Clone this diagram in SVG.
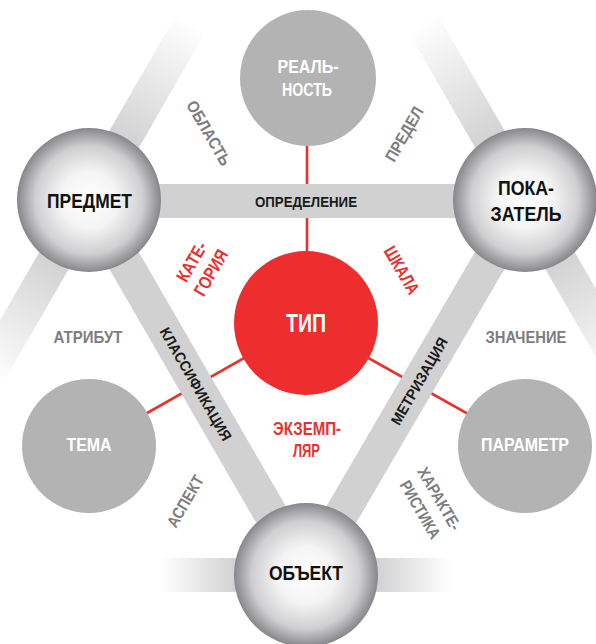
<svg xmlns="http://www.w3.org/2000/svg" width="596" height="644" viewBox="0 0 596 644">
<defs>
<style>
text{font-family:"Liberation Sans",Arial,sans-serif;font-weight:bold;text-anchor:middle}
.gl{fill:#7d7d80;font-size:16.5px}
.bl{fill:#1a1a1a;font-size:15px}
.rl{fill:#e8312f;font-size:18px}
.nb{fill:#111;font-size:21px}
.nw{fill:#fff;font-size:18.5px}
.band{stroke:#d1d1d1;stroke-width:34;fill:none}
.red{stroke:#e8312f;stroke-width:2.6;fill:none}
.flat{fill:#b3b3b3}
.sph{fill:url(#sphere)}
</style>
<radialGradient id="sphere" cx="0.5" cy="0.5" r="0.5">
<stop offset="0" stop-color="#ffffff"/>
<stop offset="0.4" stop-color="#f4f4f4"/>
<stop offset="0.75" stop-color="#cfcfd1"/>
<stop offset="1" stop-color="#87878b"/>
</radialGradient>
<linearGradient id="fadeL" x1="0" y1="0" x2="1" y2="0">
<stop offset="0.35" stop-color="#d3d3d3"/>
<stop offset="1" stop-color="#d3d3d3" stop-opacity="0"/>
</linearGradient>
<linearGradient id="fadeS" x1="0" y1="0" x2="1" y2="0">
<stop offset="0.5" stop-color="#d3d3d3"/>
<stop offset="1" stop-color="#d3d3d3" stop-opacity="0"/>
</linearGradient>
</defs>

<g id="fading-bands">
<rect x="0" y="-17" width="205" height="34" fill="url(#fadeL)" transform="translate(89,200) rotate(-60)"/>
<rect x="0" y="-17" width="205" height="34" fill="url(#fadeL)" transform="translate(89,200) rotate(120)"/>
<rect x="0" y="-17" width="205" height="34" fill="url(#fadeL)" transform="translate(525,200) rotate(-120)"/>
<rect x="0" y="-17" width="205" height="34" fill="url(#fadeL)" transform="translate(525,200) rotate(60)"/>
<rect x="0" y="-17" width="145" height="34" fill="url(#fadeS)" transform="translate(306,575) rotate(180)"/>
<rect x="0" y="-17" width="145" height="34" fill="url(#fadeS)" transform="translate(306,575)"/>
</g>

<g id="connectors">
<line class="red" x1="307" y1="140" x2="307" y2="260"/>
<line class="red" x1="306" y1="323" x2="89" y2="446"/>
<line class="red" x1="306" y1="323" x2="525" y2="446"/>
<line class="band" x1="89" y1="201" x2="525" y2="201"/>
<line class="band" x1="89" y1="200" x2="306" y2="575"/>
<line class="band" x1="525" y1="200" x2="306" y2="575"/>
</g>

<g id="labels">
<text class="bl" x="306" y="207" textLength="102" lengthAdjust="spacingAndGlyphs">ОПРЕДЕЛЕНИЕ</text>
<text class="bl" transform="translate(196,384) rotate(60)" x="0" y="5.5" textLength="128" lengthAdjust="spacingAndGlyphs">КЛАССИФИКАЦИЯ</text>
<text class="bl" transform="translate(419,381) rotate(-60)" x="0" y="5.5" textLength="98" lengthAdjust="spacingAndGlyphs">МЕТРИЗАЦИЯ</text>
<text class="gl" transform="translate(209,133) rotate(60)" x="0" y="6" textLength="72" lengthAdjust="spacingAndGlyphs">ОБЛАСТЬ</text>
<text class="gl" transform="translate(404,134) rotate(-60)" x="0" y="6" textLength="60" lengthAdjust="spacingAndGlyphs">ПРЕДЕЛ</text>
<text class="gl" x="88" y="343" textLength="69" lengthAdjust="spacingAndGlyphs">АТРИБУТ</text>
<text class="gl" x="526" y="343" textLength="81" lengthAdjust="spacingAndGlyphs">ЗНАЧЕНИЕ</text>
<text class="gl" transform="translate(185,501) rotate(-60)" x="0" y="6" textLength="57" lengthAdjust="spacingAndGlyphs">АСПЕКТ</text>
<text class="gl" transform="translate(430,504) rotate(60)"><tspan x="0" y="-5" textLength="70" lengthAdjust="spacingAndGlyphs">ХАРАКТЕ-</tspan><tspan x="0" y="17" textLength="64" lengthAdjust="spacingAndGlyphs">РИСТИКА</tspan></text>
<text class="rl" transform="translate(201,267) rotate(-60)"><tspan x="0" y="-4.5" textLength="43" lengthAdjust="spacingAndGlyphs">КАТЕ-</tspan><tspan x="0" y="17.5" textLength="50" lengthAdjust="spacingAndGlyphs">ГОРИЯ</tspan></text>
<text class="rl" transform="translate(402,270) rotate(60)" x="0" y="6.5" textLength="52" lengthAdjust="spacingAndGlyphs">ШКАЛА</text>
<text class="rl" x="307" y="435" textLength="68" lengthAdjust="spacingAndGlyphs">ЭКЗЕМП-</text>
<text class="rl" x="306.5" y="457" textLength="27" lengthAdjust="spacingAndGlyphs">ЛЯР</text>
</g>

<g id="realnost">
<circle class="flat" cx="308" cy="78" r="68"/>
<text class="nw"><tspan x="308" y="73" textLength="61" lengthAdjust="spacingAndGlyphs">РЕАЛЬ-</tspan><tspan x="307" y="96" textLength="50" lengthAdjust="spacingAndGlyphs">НОСТЬ</tspan></text>
</g>
<g id="predmet">
<circle class="sph" cx="89" cy="200" r="72"/>
<text class="nb" x="89.5" y="208" textLength="85" lengthAdjust="spacingAndGlyphs">ПРЕДМЕТ</text>
</g>
<g id="pokazatel">
<circle class="sph" cx="525" cy="200" r="72"/>
<text class="nb"><tspan x="526" y="195" textLength="56" lengthAdjust="spacingAndGlyphs">ПОКА-</tspan><tspan x="526" y="221" textLength="71" lengthAdjust="spacingAndGlyphs">ЗАТЕЛЬ</tspan></text>
</g>
<g id="tip">
<circle fill="#ee2e2e" cx="306" cy="323" r="72"/>
<text x="306" y="332" fill="#fff" font-size="25" textLength="40" lengthAdjust="spacingAndGlyphs">ТИП</text>
</g>
<g id="tema">
<circle class="flat" cx="89" cy="446" r="67"/>
<text class="nw" x="89" y="451" textLength="45" lengthAdjust="spacingAndGlyphs">ТЕМА</text>
</g>
<g id="parametr">
<circle class="flat" cx="525" cy="446" r="67"/>
<text class="nw" x="525" y="451" textLength="88" lengthAdjust="spacingAndGlyphs">ПАРАМЕТР</text>
</g>
<g id="obekt">
<circle class="sph" cx="306" cy="575" r="72"/>
<text class="nb" x="306" y="580" font-size="20" textLength="74" lengthAdjust="spacingAndGlyphs">ОБЪЕКТ</text>
</g>
</svg>
